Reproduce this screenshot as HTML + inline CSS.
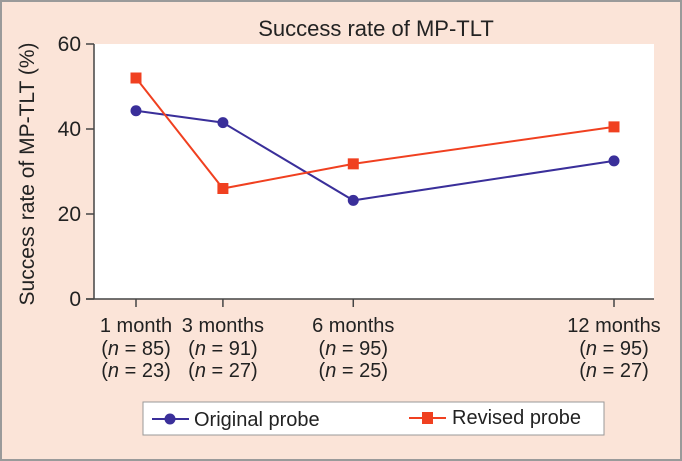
<!DOCTYPE html>
<html><head><meta charset="utf-8"><style>
body{margin:0;background:#fbe4d8;}
svg{display:block;font-family:"Liberation Sans",sans-serif;}
</style></head><body>
<svg id="c" width="682" height="461">
<rect x="1" y="1" width="680" height="459" fill="#fbe4d8" stroke="#9a9a9a" stroke-width="2"/>
<rect x="94" y="44" width="560" height="255" fill="#fff"/>
<text x="376" y="36" font-size="22" text-anchor="middle" fill="#222">Success rate of MP-TLT</text>
<text transform="translate(34,174) rotate(-90)" font-size="21" text-anchor="middle" fill="#222">Success rate of MP-TLT (%)</text>
<g id="axes"></g><g id="series"></g>
<g>
<rect x="143" y="402" width="461" height="33" fill="#fff" stroke="#999" stroke-width="1"/>
<line x1="152" y1="419" x2="189" y2="419" stroke="#3a2f9a" stroke-width="2"/>
<circle cx="170" cy="419" r="5.5" fill="#3a2f9a"/>
<text x="194" y="426" font-size="20" fill="#222">Original probe</text>
<line x1="409" y1="418" x2="446" y2="418" stroke="#f04020" stroke-width="2"/>
<rect x="422" y="412" width="11" height="12" fill="#f04020"/>
<text x="452" y="424" font-size="20" fill="#222">Revised probe</text>
</g>
</svg>
<script>
const categories=["1 month","3 months","6 months","12 months"];
const monthsX=[1,3,6,12];
const nOriginal=["85","91","95","95"];
const nRevised=["23","27","25","27"];
const originalValues=[44.3,41.5,23.2,32.5];
const revisedValues=[52,26,31.8,40.5];
const yTicks=[0,20,40,60];
const NS="http://www.w3.org/2000/svg";
const x=m=>136+(m-1)*(614-136)/11;
const y=v=>299-v*(255/60);
function mk(t,a,p){const e=document.createElementNS(NS,t);for(const k in a)e.setAttribute(k,a[k]);p.appendChild(e);return e;}
const ax=document.getElementById('axes'),se=document.getElementById('series');
let l=mk('line',{x1:94,y1:44,x2:94,y2:299,stroke:'#444','stroke-width':1.5},ax);

l=mk('line',{x1:86,y1:299,x2:654,y2:299,stroke:'#444','stroke-width':1.5},ax);

yTicks.forEach(v=>{mk('line',{x1:86,y1:y(v),x2:94,y2:y(v),stroke:'#444','stroke-width':1.5},ax);
const t=mk('text',{x:81,y:y(v)+7,'font-size':21,'text-anchor':'end',fill:'#222'},ax);t.textContent=v;
});
categories.forEach((c,i)=>{const cx=x(monthsX[i]);
mk('line',{x1:cx,y1:299,x2:cx,y2:307,stroke:'#444','stroke-width':1.5},ax);
const t=mk('text',{x:cx,y:332,'font-size':20,'text-anchor':'middle',fill:'#222'},ax);t.textContent=c;

[nOriginal[i],nRevised[i]].forEach((n,j)=>{const tt=mk('text',{x:cx,y:355+j*22,'font-size':20,'text-anchor':'middle',fill:'#222'},ax);
tt.innerHTML='(<tspan font-style="italic">n</tspan> = '+n+')';
});});
function series(vals,col,sq,name){
const p=mk('polyline',{points:vals.map((v,i)=>x(monthsX[i])+','+y(v)).join(' '),fill:'none',stroke:col,'stroke-width':2},se);

vals.forEach((v,i)=>{const e=sq?mk('rect',{x:x(monthsX[i])-5.5,y:y(v)-5.5,width:11,height:11,fill:col},se):mk('circle',{cx:x(monthsX[i]),cy:y(v),r:5.5,fill:col},se);
});}
series(originalValues,'#3a2f9a',false,'original');
series(revisedValues,'#f04020',true,'revised');
</script>
</body></html>
